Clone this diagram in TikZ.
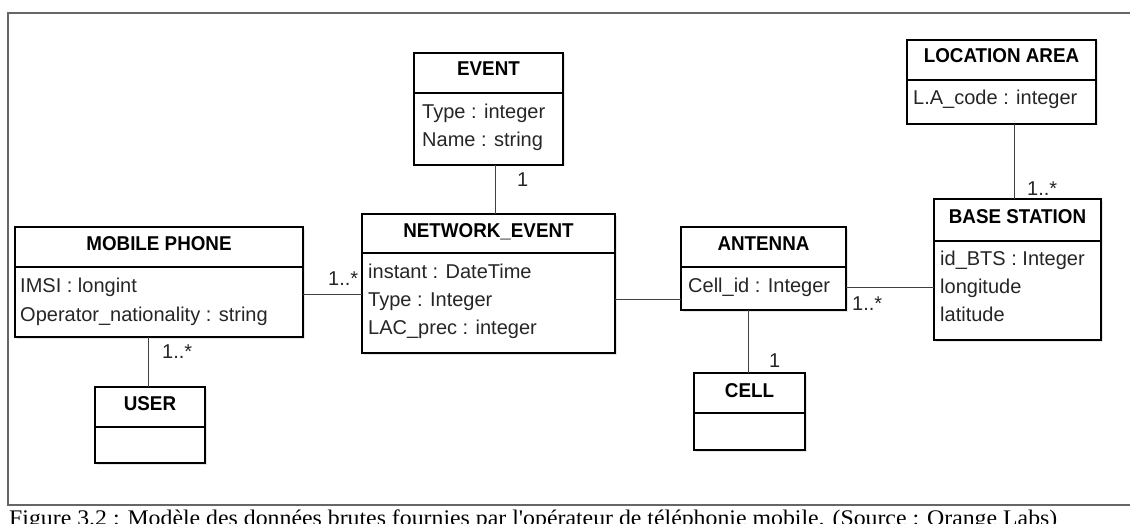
\documentclass[tikz,border=0pt]{standalone}
\usepackage{fontspec}
\setmainfont{Liberation Sans}
\newfontfamily\capfont{Liberation Serif}
\usepackage{graphicx}
\usetikzlibrary{shadows}
\newcommand{\ctitle}[1]{\scalebox{0.94}[1]{\bfseries #1}}
\begin{document}
\begin{tikzpicture}[x=1pt,y=-1pt,
  cls/.style={draw=black, line width=1.3pt, fill=white, inner sep=0pt, outer sep=0pt, anchor=north west,
    drop shadow={shadow xshift=1.5pt,shadow yshift=-1.5pt,opacity=0.2}},
  sepline/.style={draw=black, line width=1.2pt},
  ttl/.style={inner sep=0pt, anchor=base, font=\fontsize{20pt}{24pt}\selectfont},
  attr/.style={inner sep=0pt, anchor=base west, font=\fontsize{20pt}{24pt}\selectfont, text=black!85},
  mult/.style={inner sep=0pt, anchor=base west, font=\fontsize{20pt}{24pt}\selectfont, text=black!85},
  assoc/.style={draw=black!75, line width=1pt},
  framel/.style={draw=black!60, line width=1.3pt}]

\useasboundingbox (0,0) rectangle (1130,524);

% frame
\coordinate (ftr) at (1130,13);
\coordinate (ftl) at (8,13);
\coordinate (fbl) at (8,505);
\coordinate (fbr) at (1130,505);
\draw[framel] (ftr) -- (ftl) -- (fbl) -- (fbr);

% MOBILE PHONE
\node[cls, minimum width=288pt, minimum height=110pt] (mp) at (15,227) {};
\draw[sepline] (mp.west |- 0,267) -- (mp.east |- 0,267);
\node[ttl] (mpT) at (mp.north |- 0,250) {\ctitle{MOBILE PHONE}};
\node[attr] (mpA1) at (20,292) {IMSI : longint};
\node[attr] (mpA2) at (20,321) {Operator\_nationality : string};

% USER
\node[cls, minimum width=110pt, minimum height=76pt] (user) at (95,387) {};
\draw[sepline] (user.west |- 0,427) -- (user.east |- 0,427);
\node[ttl] (userT) at (user.north |- 0,410) {\ctitle{USER}};

% NETWORK_EVENT
\node[cls, minimum width=253pt, minimum height=139pt] (ne) at (362,214) {};
\draw[sepline] (ne.west |- 0,253) -- (ne.east |- 0,253);
\node[ttl] (neT) at (ne.north |- 0,237) {\ctitle{NETWORK\_EVENT}};
\node[attr] (neA1) at (368,278) {instant : DateTime};
\node[attr] (neA2) at (368,306) {Type : Integer};
\node[attr] (neA3) at (368,334) {LAC\_prec : integer};

% EVENT
\node[cls, minimum width=149pt, minimum height=112pt] (ev) at (414,53) {};
\draw[sepline] (ev.west |- 0,93) -- (ev.east |- 0,93);
\node[ttl] (evT) at (ev.north |- 0,76) {\ctitle{EVENT}};
\node[attr] (evA1) at (422,119) {Type : integer};
\node[attr] (evA2) at (422,147) {Name : string};

% ANTENNA
\node[cls, minimum width=165pt, minimum height=83pt] (ant) at (681,227) {};
\draw[sepline] (ant.west |- 0,267) -- (ant.east |- 0,267);
\node[ttl] (antT) at (ant.north |- 0,250) {\ctitle{ANTENNA}};
\node[attr] (antA1) at (688,292) {Cell\_id : Integer};

% CELL
\node[cls, minimum width=111pt, minimum height=77pt] (cell) at (694,373) {};
\draw[sepline] (cell.west |- 0,413) -- (cell.east |- 0,413);
\node[ttl] (cellT) at (cell.north |- 0,397) {\ctitle{CELL}};

% BASE STATION
\node[cls, minimum width=167pt, minimum height=141pt] (bs) at (934,199) {};
\draw[sepline] (bs.west |- 0,241) -- (bs.east |- 0,241);
\node[ttl] (bsT) at (bs.north |- 0,223) {\ctitle{BASE STATION}};
\node[attr] (bsA1) at (940,265) {id\_BTS : Integer};
\node[attr] (bsA2) at (940,293) {longitude};
\node[attr] (bsA3) at (940,321) {latitude};

% LOCATION AREA
\node[cls, minimum width=189pt, minimum height=84pt] (la) at (907,40) {};
\draw[sepline] (la.west |- 0,80) -- (la.east |- 0,80);
\node[ttl] (laT) at (la.north |- 0,63) {\ctitle{LOCATION AREA}};
\node[attr] (laA1) at (913,105) {L.A\_code : integer};

% associations
\draw[assoc] (mp.east |- 0,294) -- (ne.west |- 0,294);
\draw[assoc] (ev.south -| 495,0) -- (ne.north -| 495,0);
\draw[assoc] (ne.east |- 0,299) -- (ant.west |- 0,299);
\draw[assoc] (ant.east |- 0,287) -- (bs.west |- 0,287);
\draw[assoc] (ant.south -| 748,0) -- (cell.north -| 748,0);
\draw[assoc] (la.south -| 1014,0) -- (bs.north -| 1014,0);
\draw[assoc] (mp.south -| 148,0) -- (user.north -| 148,0);

% multiplicities
\node[mult] (m1) at (328,285) {1..*};
\node[mult] (m2) at (517,186) {1};
\node[mult] (m3) at (852,310) {1..*};
\node[mult] (m4) at (769,367) {1};
\node[mult] (m5) at (1027,196) {1..*};
\node[mult] (m6) at (162,358) {1..*};

% caption
\node[anchor=base west, inner sep=0pt] (cap) at (9,525)
  {\capfont\resizebox{1048pt}{15.7pt}{Figure 3.2 : Modèle des données brutes fournies par l'opérateur de téléphonie mobile. (Source : Orange Labs)}};
\end{tikzpicture}
\end{document}
